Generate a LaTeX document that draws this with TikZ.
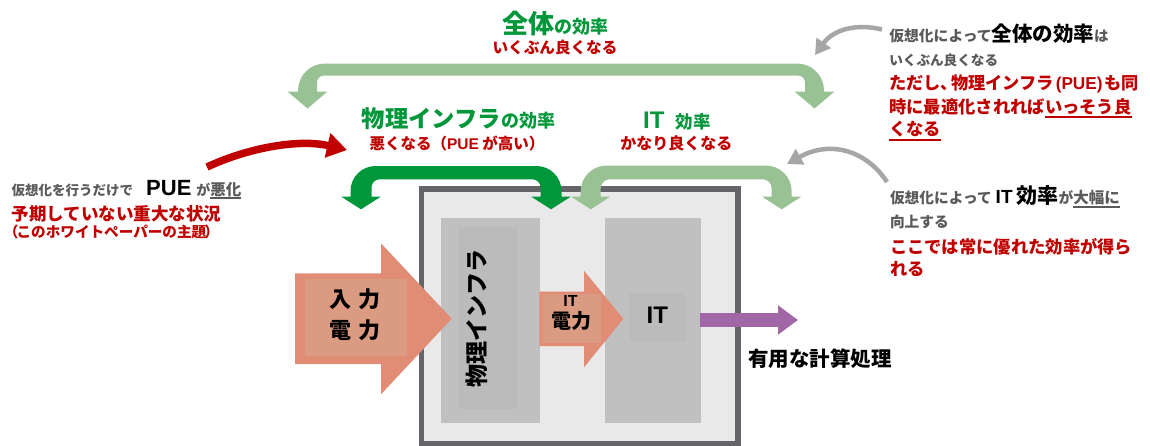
\documentclass[tikz,border=0pt]{standalone}
\usepackage{fontspec}
\setmainfont{Noto Sans CJK JP}
\newfontfamily\lat{Liberation Sans}
\usetikzlibrary{arrows.meta}
\definecolor{ltgreen}{HTML}{98C293}
\definecolor{dkgreen}{HTML}{00963A}
\definecolor{tgreen}{HTML}{00963A}
\definecolor{tred}{HTML}{C00000}
\definecolor{tgray}{HTML}{5A5A5A}
\definecolor{agray}{HTML}{A6A6A6}
\definecolor{fracol}{HTML}{646469}
\definecolor{frfill}{HTML}{E9E9E9}
\definecolor{boxgray}{HTML}{C0C0C0}
\definecolor{boxin}{HTML}{BBBBBB}
\definecolor{salmon}{HTML}{E18C74}
\definecolor{salmonin}{HTML}{DB9B82}
\definecolor{purp}{HTML}{A066A5}
\newcommand\fsz[1]{\fontsize{#1}{#1}\selectfont}
\newcommand\ulin[3]{\setbox0=\hbox{#3}\rlap{\color{#1}\rule[#2]{\wd0}{1.6pt}}\box0}
\newcommand\uarrowshape[1]{%
\fill[#1] (\UxL,\UyP) -- ({\UxL+\UhH},\UyH) -- ({\UxL+\UhW},\UyH) -- ({\UxL+\UhW},{\UyB+\URi})
 .. controls ({\UxL+\UhW},{\UyB+\URi-0.5523*\URi}) and ({\UxL+\UhW+\URi-0.5523*\URi},\UyB) .. ({\UxL+\UhW+\URi},\UyB)
 -- ({\UxR-\UhW-\URi},\UyB)
 .. controls ({\UxR-\UhW-\URi+0.5523*\URi},\UyB) and ({\UxR-\UhW},{\UyB+\URi-0.5523*\URi}) .. ({\UxR-\UhW},{\UyB+\URi})
 -- ({\UxR-\UhW},\UyH) -- ({\UxR-\UhH},\UyH) -- (\UxR,\UyP) -- ({\UxR+\UhH},\UyH) -- ({\UxR+\UhW},\UyH)
 -- ({\UxR+\UhW},{\UyT+\URo})
 .. controls ({\UxR+\UhW},{\UyT+\URo-0.5523*\URo}) and ({\UxR+\UhW-\URo+0.5523*\URo},\UyT) .. ({\UxR+\UhW-\URo},\UyT)
 -- ({\UxL-\UhW+\URo},\UyT)
 .. controls ({\UxL-\UhW+\URo-0.5523*\URo},\UyT) and ({\UxL-\UhW},{\UyT+\URo-0.5523*\URo}) .. ({\UxL-\UhW},{\UyT+\URo})
 -- ({\UxL-\UhW},\UyH) -- ({\UxL-\UhH},\UyH) -- cycle;}
\begin{document}
\begin{tikzpicture}[x=1pt,y=-1pt,
  every node/.style={inner sep=0pt,outer sep=0pt,font=\bfseries},
  txt/.style={anchor=base west},
  ctxt/.style={anchor=base},
  boxnode/.style={draw=none},
  redarrow/.style={draw=tred,line width=7.5pt,-{Triangle[length=20pt,width=24pt]}},
  grayarrow/.style={draw=agray,line width=4.5pt,-{Triangle[length=15pt,width=17pt]}},
  purparrow/.style={draw=purp,line width=14pt,-{Triangle[length=20pt,width=28pt]}}]
\useasboundingbox[fill=white] (0,0) rectangle (1150,445);

% big top arrow (overall efficiency)
\def\UxL{307.5}\def\UxR{814.5}\def\UyT{63.5}\def\UyB{75.5}\def\UhW{9.5}\def\UhH{20}\def\UyH{91.5}\def\UyP{108.5}\def\URi{7}\def\URo{27}
\uarrowshape{ltgreen}

% frame and boxes
\node[boxnode,draw=fracol,line width=5.3pt,fill=frfill,minimum width=316.3pt,minimum height=254.6pt] (frame) at (579.85,316.2) {};
\node[boxnode,fill=boxgray,minimum width=99pt,minimum height=205pt] (phys) at (490.5,320.8) {};
\node[boxnode,fill=boxin,minimum width=57.4pt,minimum height=181.7pt] (physin) at (488,318.15) {};
\node[boxnode,fill=boxgray,minimum width=96pt,minimum height=205pt] (itbox) at (653,320.8) {};
\node[boxnode,fill=boxin,minimum width=57.5pt,minimum height=49pt] (itin) at (657.25,317.2) {};
\node[rotate=90,font={\bfseries\fsz{23}}] (phl) at (477,318.5) {物理インフラ};
\node[font={\bfseries\lat\fsz{24}}] (itl) at (657.3,315) {IT};

% dark green arrow (physical infrastructure)
\def\UxL{361}\def\UxR{551}\def\UyT{166}\def\UyB{179.3}\def\UhW{10.5}\def\UhH{19.7}\def\UyH{196.7}\def\UyP{209.3}\def\URi{8}\def\URo{25}
\uarrowshape{dkgreen}
% light green arrow (IT)
\def\UxL{590.7}\def\UxR{781.7}\def\UyT{165.5}\def\UyB{179.3}\def\UhW{10}\def\UhH{19.5}\def\UyH{196.7}\def\UyP{209.3}\def\URi{9}\def\URo{26}
\uarrowshape{ltgreen}

% input power arrow
\fill[salmon] (295,273.3) -- (381,273.3) -- (381,243.3) -- (451.7,318.7) -- (381,394.3) -- (381,364) -- (295,364) -- cycle;
\fill[salmonin] (305,279.3) rectangle (406.7,355.7);
\node (in1) at (355,299.5) {\fsz{22}入\hspace{7pt}力};
\node (in2) at (355,330) {\fsz{22}電\hspace{7pt}力};

% IT power arrow
\fill[salmon] (539.3,291.7) -- (584,291.7) -- (584,270.7) -- (623.3,318.8) -- (584,367.3) -- (584,346) -- (539.3,346) -- cycle;
\fill[salmonin] (543,294) rectangle (600.7,343.3);
\node (ip1) at (570.5,300.8) {\lat\fsz{16}IT};
\node (ip2) at (571.7,321) {\fsz{20}電力};

% useful output
\coordinate (pstart) at (700,320);
\coordinate (pend) at (798,320);
\draw[purparrow] (pstart) -- (pend);
\node[anchor=west] (use) at (748,359) {\fsz{20.5}有用な計算処理};

% top labels
\node[ctxt,text=tgreen] (t1) at (555,33) {\fsz{26}全体\fsz{18}の効率};
\node[ctxt,text=tred] (t2) at (555,53) {\fsz{15.6}いくぶん良くなる};
\node[ctxt,text=tgreen] (p1) at (458.5,127) {\fsz{23.3}物理インフラ\fsz{18}の効率};
\node[ctxt,text=tred] (p2) at (457,149) {\fsz{15.5}悪くなる（{\lat PUE} が高い）};
\node[ctxt,text=tgreen] (i1) at (676.9,128.5) {{\lat\fsz{24}IT}\hspace{11pt}{\fsz{17.5}効率}};
\node[ctxt,text=tred] (i2) at (676.4,149.3) {\fsz{16}かなり良くなる};

% left block
\node[txt] (l1) at (11.7,195) {{\color{tgray}\fsz{13.5}仮想化を行うだけで}\hspace{13pt}{\lat\fsz{22}PUE}\hspace{5pt}{\color{tgray}\fsz{14}が\fsz{15.5}\ulin{tgray}{-4pt}{悪化}}};
\node[txt,text=tred] (l2) at (11.7,220) {\fsz{17.5}予期していない重大な状況};
\node[txt,text=tred] (l3) at (4,237) {\fsz{14.6}（\hspace{-2pt}このホワイトペーパーの主題\hspace{-2pt}）};
\coordinate (ra1) at (207,167);
\coordinate (ra2) at (347,150);
\draw[redarrow] (ra1) .. controls (250,147) and (300,139) .. (ra2);

% right top block
\node[txt] (r1) at (889.3,41) {{\color{tgray}\fsz{14.8}仮想化によって}{\fsz{20.5}全体の効率}{\color{tgray}\fsz{14.5}は}};
\node[txt,text=tgray] (r2) at (889.3,65.5) {\fsz{13.6}いくぶん良くなる};
\node[txt,text=tred] (r3) at (889.3,89) {\fsz{17.2}ただし、\hspace{-7pt}物理インフラ{\lat\hspace{2pt}(PUE)\hspace{2pt}}も同};
\node[txt,text=tred] (r4) at (889.3,113) {\fsz{17.3}時に最適化されれば\ulin{tred}{-5pt}{いっそう良}};
\node[txt,text=tred] (r5) at (889.3,135.5) {\fsz{17.3}\ulin{tred}{-5pt}{くなる}};
\coordinate (ga1) at (882,29.5);
\coordinate (ga2) at (815,55);
\draw[grayarrow] (ga1) .. controls (855,23) and (833,30) .. (ga2);

% right lower block
\node[txt] (s1) at (890,203.5) {{\color{tgray}\fsz{14.7}仮想化によって}\hspace{4pt}{\lat\fsz{19}IT}\hspace{4pt}{\fsz{21}効率}{\color{tgray}\fsz{14.7}が\fsz{15.5}\ulin{tgray}{-4pt}{大幅に}}};
\node[txt,text=tgray] (s2) at (890,227) {\fsz{14.7}向上する};
\node[txt,text=tred] (s3) at (890,253.3) {\fsz{17.3}ここでは常に優れた効率が得ら};
\node[txt,text=tred] (s4) at (890,275) {\fsz{17.3}れる};
\coordinate (gb1) at (887,182);
\coordinate (gb2) at (787,164);
\draw[grayarrow] (gb1) .. controls (866,150) and (830,140) .. (gb2);
\end{tikzpicture}
\end{document}
